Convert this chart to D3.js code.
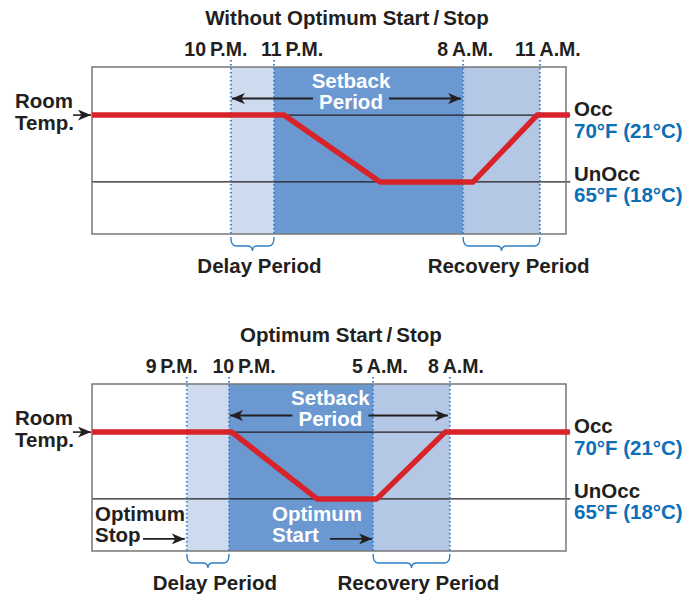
<!DOCTYPE html>
<html>
<head>
<meta charset="utf-8">
<script src="https://cdn.jsdelivr.net/npm/d3@7"></script>
<style>
  html, body { margin: 0; padding: 0; background: #fff; }
  svg { display: block; font-family: "Liberation Sans", Arial, Helvetica, sans-serif; font-weight: bold; }
</style>
</head>
<body>
<svg id="chart" width="696" height="597"></svg>
<script>
// ---------- DATA ----------
const panelTitles = ["Without Optimum Start\u2009/\u2009Stop", "Optimum Start\u2009/\u2009Stop"];
// schematic time axis: 0 = left edge of the box, 100 = right edge
const topTimeLabels = ["10\u2009P.M.", "11\u2009P.M.", "8\u2009A.M.", "11\u2009A.M."];
const topTimeMarks = [29.3, 38.4, 78.3, 94.5];
const topTempX = [0, 40.5, 60.8, 80.4, 93.9, 100.8];
const topTempF = [70, 70, 65, 65, 70, 70];

const bottomTimeLabels = ["9\u2009P.M.", "10\u2009P.M.", "5\u2009A.M.", "8\u2009A.M."];
const bottomTimeMarks = [20.0, 28.9, 59.3, 75.5];
const bottomTempX = [0, 29.5, 47.5, 60.1, 74.5, 100.8];
const bottomTempF = [70, 70, 65, 65, 70, 70];

// unoccupied schedule shown by the Setback Period arrows
const setbackSpan = ["10\u2009P.M.", "8\u2009A.M."];

const setpointF = [70, 65];
const setpointNames = ["Occ", "UnOcc"];
const setpointValues = ["70\u00B0F (21\u00B0C)", "65\u00B0F (18\u00B0C)"];
const periodNames = ["Delay Period", "Setback Period", "Recovery Period"];
const tempDomain = [61.1, 73.6];

// ---------- LAYOUT ----------
const boxLeft = 92, boxRight = 566, boxH = 167;
const panels = [
  { top: 67, title: panelTitles[0], labels: topTimeLabels, marks: topTimeMarks,
    tx: topTempX, tf: topTempF, labelDx: [-15, 18, 2, 8], titleX: 347, setDx: 4, optimum: false },
  { top: 384, title: panelTitles[1], labels: bottomTimeLabels, marks: bottomTimeMarks,
    tx: bottomTempX, tf: bottomTempF, labelDx: [-15, 15, 7, 6], titleX: 341, setDx: -9, optimum: true }
];
const colors = { delay: "#cedaee", setback: "#6b98d0", recovery: "#b4c8e6",
  red: "#d8232b", text: "#231f20", blue: "#0b6fb8", dot: "#3f87d0", frame: "#777" };

const svg = d3.select("#chart");
const defs = svg.append("defs");
defs.append("marker").attr("id", "ah").attr("viewBox", "0 0 13 11")
  .attr("refX", 13).attr("refY", 5.5).attr("markerWidth", 13).attr("markerHeight", 11)
  .attr("markerUnits", "userSpaceOnUse").attr("orient", "auto")
  .append("path").attr("d", "M0,0 L13,5.5 L0,11 L3.5,5.5 Z").attr("fill", colors.text);

const x = d3.scaleLinear().domain([0, 100]).range([boxLeft, boxRight]);

panels.forEach((p, pi) => {
  const g = svg.append("g").attr("transform", `translate(0,${p.top})`);
  const y = d3.scaleLinear().domain(tempDomain).range([boxH, 0]);
  const m = p.marks;

  // title
  g.append("text").attr("x", p.titleX).attr("y", -42).attr("text-anchor", "middle")
    .attr("font-size", 20.5).attr("fill", colors.text).text(p.title);

  // white box background
  g.append("rect").attr("x", x(0)).attr("y", 0).attr("width", x(100) - x(0)).attr("height", boxH)
    .attr("fill", "#fff");

  // shaded periods
  const bands = [[m[0], m[1], colors.delay], [m[1], m[2], colors.setback], [m[2], m[3], colors.recovery]];
  g.selectAll("rect.band").data(bands).join("rect").attr("class", "band")
    .attr("x", d => x(d[0])).attr("y", 0).attr("width", d => x(d[1]) - x(d[0])).attr("height", boxH)
    .attr("fill", d => d[2]);

  // setpoint reference lines
  g.selectAll("line.sp").data(setpointF).join("line").attr("class", "sp")
    .attr("x1", x(0)).attr("x2", x(100.9)).attr("y1", d => y(d)).attr("y2", d => y(d))
    .attr("stroke", colors.text).attr("stroke-width", 1.3);

  // frame
  g.append("rect").attr("x", x(0)).attr("y", 0).attr("width", x(100) - x(0)).attr("height", boxH)
    .attr("fill", "none").attr("stroke", colors.frame).attr("stroke-width", 1.5);

  // dotted time lines
  g.selectAll("line.tm").data(m).join("line").attr("class", "tm")
    .attr("x1", d => x(d)).attr("x2", d => x(d)).attr("y1", -7).attr("y2", boxH)
    .attr("stroke", colors.dot).attr("stroke-width", 2).attr("stroke-dasharray", "1.6,2.4");

  // time labels
  g.selectAll("text.tl").data(p.labels).join("text").attr("class", "tl")
    .attr("x", (d, i) => x(m[i]) + p.labelDx[i]).attr("y", -11.5).attr("text-anchor", "middle")
    .attr("font-size", 19.5).attr("fill", colors.text).text(d => d);

  // room temperature line
  const pts = p.tx.map((v, i) => [v, p.tf[i]]);
  const line = d3.line().x(d => x(d[0])).y(d => y(d[1])).curve(d3.curveLinear);
  g.append("path").attr("d", line(pts)).attr("fill", "none").attr("stroke", colors.red)
    .attr("stroke-width", 5.5).attr("stroke-linejoin", "round");

  // setback period arrows + text
  const a0 = x(m[p.labels.indexOf(setbackSpan[0])]);
  const a1 = x(m[p.labels.indexOf(setbackSpan[1])]);
  const setMid = (a0 + a1) / 2 + p.setDx;
  const arrowY = y(70) - 16.5;
  const txtHalf = 38;
  g.append("line").attr("x1", setMid - txtHalf).attr("x2", a0 + 1).attr("y1", arrowY).attr("y2", arrowY)
    .attr("stroke", colors.text).attr("stroke-width", 2).attr("marker-end", "url(#ah)");
  g.append("line").attr("x1", setMid + txtHalf).attr("x2", a1 - 2).attr("y1", arrowY).attr("y2", arrowY)
    .attr("stroke", colors.text).attr("stroke-width", 2).attr("marker-end", "url(#ah)");
  const sp = periodNames[1].split(" ");
  g.append("text").attr("x", setMid).attr("y", arrowY - 11).attr("text-anchor", "middle")
    .attr("font-size", 20.5).attr("fill", "#fff").text(sp[0]);
  g.append("text").attr("x", setMid).attr("y", arrowY + 10).attr("text-anchor", "middle")
    .attr("font-size", 20.5).attr("fill", "#fff").text(sp[1]);

  // Room Temp. label with arrow
  g.append("text").attr("x", 15).attr("y", y(70) - 7).attr("font-size", 20.5).attr("fill", colors.text).text("Room");
  g.append("text").attr("x", 15).attr("y", y(70) + 15).attr("font-size", 20.5).attr("fill", colors.text).text("Temp.");
  g.append("line").attr("x1", 73).attr("x2", x(0) - 1).attr("y1", y(70)).attr("y2", y(70))
    .attr("stroke", colors.text).attr("stroke-width", 1.6).attr("marker-end", "url(#ah)");

  // setpoint labels on the right
  setpointF.forEach((t, i) => {
    g.append("text").attr("x", 574).attr("y", y(t) + (i === 0 ? 0.5 : -1)).attr("font-size", 20.5)
      .attr("fill", colors.text).text(setpointNames[i]);
    g.append("text").attr("x", 574).attr("y", y(t) + (i === 0 ? 23 : 20)).attr("font-size", 20.5)
      .attr("fill", colors.blue).text(setpointValues[i]);
  });

  // braces + period labels
  const brace = (x1, x2) => {
    const y0 = boxH + 3, y1 = boxH + 12, mid = (x1 + x2) / 2;
    return `M${x1},${y0} Q${x1},${y1} ${x1 + 5},${y1} L${mid - 5},${y1} Q${mid},${y1} ${mid},${y1 + 5} ` +
           `Q${mid},${y1} ${mid + 5},${y1} L${x2 - 5},${y1} Q${x2},${y1} ${x2},${y0}`;
  };
  const braces = [[m[0], m[1], periodNames[0]], [m[2], m[3], periodNames[2]]];
  g.selectAll("path.brace").data(braces).join("path").attr("class", "brace")
    .attr("d", d => brace(x(d[0]), x(d[1]))).attr("fill", "none")
    .attr("stroke", "#2f7fc6").attr("stroke-width", 1.4);
  g.selectAll("text.pl").data(braces).join("text").attr("class", "pl")
    .attr("x", d => (x(d[0]) + x(d[1])) / 2 + 7).attr("y", boxH + 39).attr("text-anchor", "middle")
    .attr("font-size", 20.5).attr("fill", colors.text).text(d => d[2]);

  // optimum stop / start annotations
  if (p.optimum) {
    const yA = y(65) + 22, yB = y(65) + 43, yArr = y(65) + 40;
    g.append("text").attr("x", 95).attr("y", yA).attr("font-size", 20.5).attr("fill", colors.text).text("Optimum");
    g.append("text").attr("x", 95).attr("y", yB).attr("font-size", 20.5).attr("fill", colors.text).text("Stop");
    g.append("line").attr("x1", 143).attr("x2", x(m[0]) - 2).attr("y1", yArr).attr("y2", yArr)
      .attr("stroke", colors.text).attr("stroke-width", 1.6).attr("marker-end", "url(#ah)");
    g.append("text").attr("x", 272).attr("y", yA).attr("font-size", 20.5).attr("fill", "#fff").text("Optimum");
    g.append("text").attr("x", 272).attr("y", yB).attr("font-size", 20.5).attr("fill", "#fff").text("Start");
    g.append("line").attr("x1", 330).attr("x2", x(m[2]) - 1).attr("y1", yArr).attr("y2", yArr)
      .attr("stroke", colors.text).attr("stroke-width", 1.6).attr("marker-end", "url(#ah)");
  }
});
</script>
</body>
</html>
